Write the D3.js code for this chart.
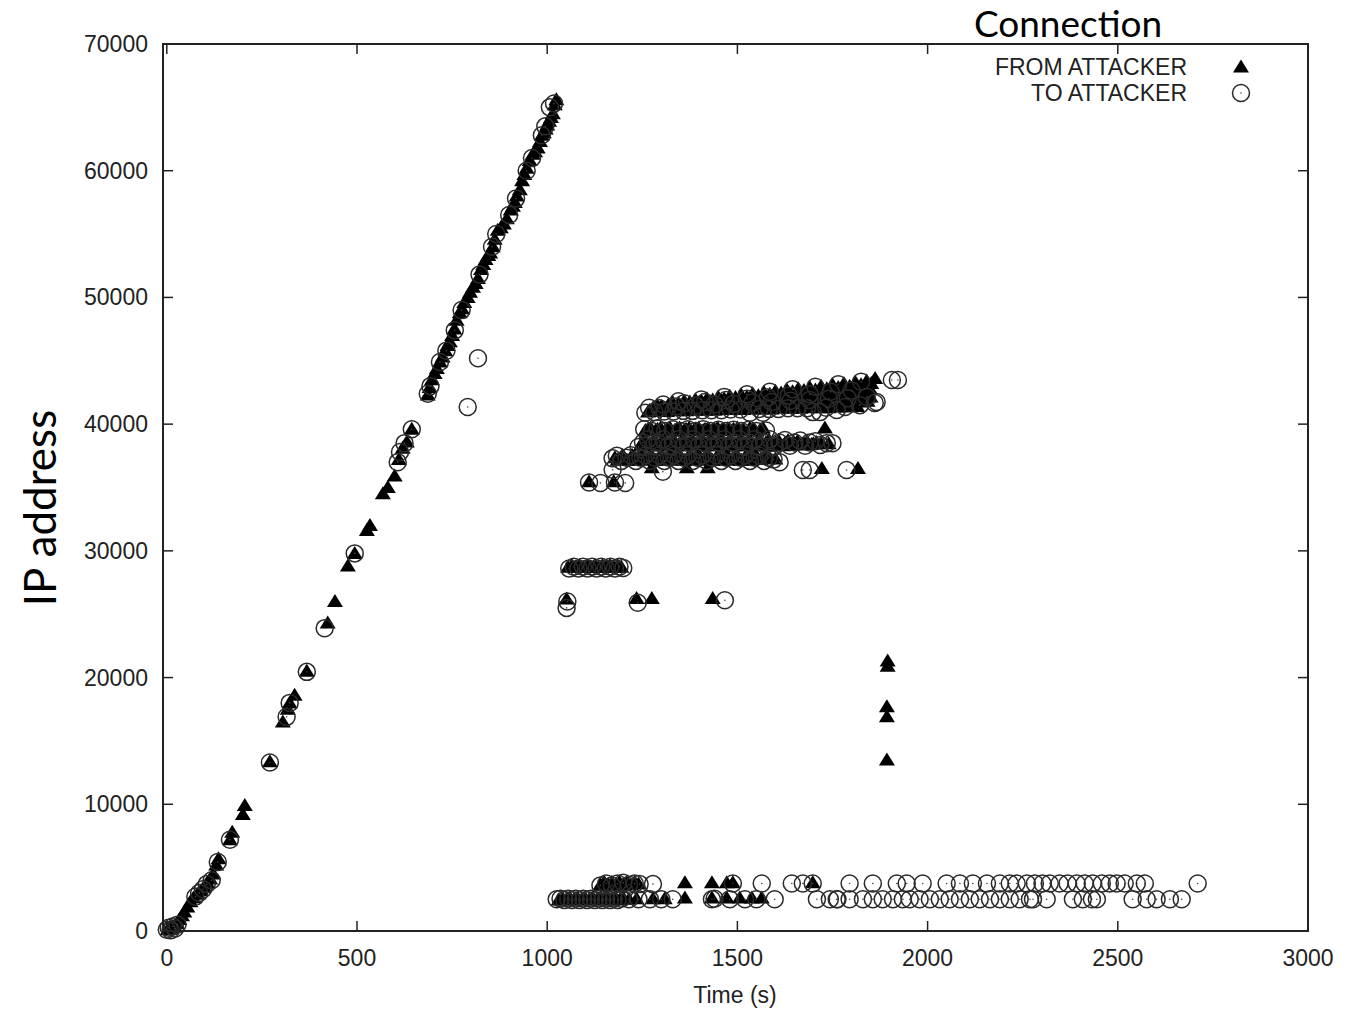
<!DOCTYPE html>
<html lang="en">
<head>
  <meta charset="UTF-8" />
  <title>Connection: IP address over time</title>
  <script src="https://d3js.org/d3.v7.min.js"></script>
  <style>
    body {
      margin: 0;
      background: #fff;
      overflow: hidden;
    }
    .tick-label, .axis-label, .legend-label {
      font-family: "Liberation Sans", Arial, sans-serif;
      fill: #222;
    }
    .big-label {
      font-family: Lato, "Open Sans", sans-serif;
      fill: #000;
    }
  </style>
</head>
<body>
  <script>
    // Axis ticks
    const xTicks = [0, 500, 1000, 1500, 2000, 2500, 3000];
    const yTicks = [0, 10000, 20000, 30000, 40000, 50000, 60000, 70000];

    // FROM ATTACKER (triangles): [time, ip]
    const fromDiagonal = [
      [2,100],[6,200],[10,150],[14,300],[20,400],[26,600],[33,900],[40,1200],[46,1500],[54,1900],
      [62,2300],[70,2600],[80,2900],[90,3200],[98,3500],[106,3800],[114,4100],[122,4500],[130,5200],[136,5700],
      [166,7200],[172,7800],[200,9200],[205,9900],[271,13350],[305,16500],[318,17500],[323,18000],[336,18600],
      [368,20500],[423,24300],[442,26000],[476,28800],[494,29800],[526,31600],[534,32000],[568,34500],
      [581,35000],[599,35900],[610,37200],[620,38100],[631,38600],[644,39600],[686,42300],[691,42900],
      [697,43500],[704,44000],[710,44400],[718,44900],[725,45300],[732,45800],[738,46200],[744,46500],[750,47000],
      [756,47500],[762,48200],[770,48800],[776,49100],[782,49600],[791,50000],[797,50400],[805,50800],[812,51100],
      [818,51500],[826,52200],[832,52600],[838,53000],[845,53300],[850,53500],[857,54000],[862,54600],[870,55300],
      [878,55500],[886,55800],[894,56200],[904,56900],[910,57200],[915,57500],[920,58000],[928,58500],[934,59200],
      [940,59700],[946,60200],[954,60800],[962,61300],[968,61500],[975,61800],[981,62300],[986,62800],[991,63000],
      [996,63300],[1000,63600],[1005,63900],[1010,64200],[1015,64500],[1020,65200],[1024,65600]
    ];
    const fromUpperBands = [
      [1265,40950],[1290,41000],[1315,41000],[1340,41050],[1365,41050],[1390,41100],[1415,41100],[1440,41100],
      [1465,41150],[1490,41150],[1515,41150],[1540,41200],[1565,41200],[1590,41200],[1615,41250],[1640,41250],
      [1665,41250],[1690,41300],[1715,41300],[1740,41300],[1765,41350],[1790,41350],[1815,41400],
      [1270,41100],[1295,41150],[1320,41150],[1345,41200],[1370,41250],[1395,41250],[1420,41300],[1445,41300],
      [1470,41350],[1495,41400],[1520,41400],[1545,41450],[1570,41450],[1595,41500],[1620,41500],[1645,41550],
      [1670,41550],[1695,41600],[1720,41600],[1745,41650],[1770,41650],[1795,41700],[1820,41750],[1842,41800],
      [1278,41250],[1303,41300],[1328,41350],[1353,41350],[1378,41400],[1403,41450],[1428,41500],[1453,41500],
      [1478,41550],[1503,41600],[1528,41650],[1553,41650],[1578,41700],[1603,41750],[1628,41800],[1653,41800],
      [1678,41850],[1703,41900],[1728,41950],[1753,41950],[1778,42000],[1803,42050],[1828,42100],[1850,42150],
      [1300,41400],[1330,41450],[1360,41500],[1390,41550],[1420,41650],[1450,41700],[1480,41700],[1510,41800],
      [1540,41850],[1570,41900],[1600,41950],[1630,42000],[1660,42100],[1690,42150],[1720,42200],[1750,42250],
      [1780,42300],[1810,42400],[1838,42450],
      [1290,41450],[1318,41500],[1346,41550],[1374,41650],[1402,41700],[1430,41750],[1458,41850],[1486,41900],
      [1514,41950],[1542,42050],[1570,42100],[1598,42150],[1626,42250],[1654,42300],[1682,42350],[1710,42450],
      [1738,42500],[1766,42550],[1794,42650],[1822,42700],[1848,42800],
      [1345,41650],[1375,41750],[1405,41850],[1435,41900],[1465,42000],[1495,42100],[1525,42150],[1555,42250],
      [1585,42350],[1615,42450],[1645,42550],[1675,42650],[1705,42700],[1735,42800],[1765,42900],[1795,43000],
      [1825,43100],[1852,43200],
      [1330,41700],[1360,41800],[1390,41900],[1420,42000],[1450,42100],[1480,42200],[1510,42300],[1540,42400],
      [1570,42500],[1600,42600],[1630,42700],[1660,42800],[1690,42900],[1720,43000],[1750,43100],[1780,43200],
      [1810,43300],[1840,43400],[1862,43600],
      [1258,39500],[1272,39700],[1285,39500],[1298,39700],[1310,39500],[1323,39700],[1335,39500],[1348,39700],
      [1360,39500],[1373,39700],[1385,39500],[1398,39700],[1410,39500],[1423,39650],[1435,39500],[1448,39700],
      [1460,39500],[1475,39650],[1488,39500],[1500,39700],[1512,39500],[1533,39700],[1545,39500],[1567,39700],[1730,39700],
      [1265,39600],[1290,39600],[1315,39600],[1340,39600],[1365,39600],[1390,39600],[1415,39600],[1440,39600],
      [1465,39600],[1490,39600],[1515,39600],[1540,39600],[1560,39550]
    ];
    const fromMiddleBands = [
      [1245,38300],[1258,38750],[1270,38300],[1283,38750],[1295,38300],[1308,38750],[1320,38300],[1333,38750],
      [1345,38300],[1358,38750],[1370,38300],[1383,38750],[1395,38300],[1408,38750],[1420,38300],[1433,38750],
      [1445,38300],[1458,38750],[1470,38300],[1483,38750],[1495,38300],[1508,38750],[1520,38300],[1533,38750],
      [1545,38300],[1558,38750],[1570,38300],[1583,38750],[1595,38300],[1608,38700],[1620,38300],[1633,38700],
      [1645,38350],[1658,38650],[1670,38350],[1683,38600],[1695,38400],[1708,38550],[1720,38450],
      [1250,38550],[1275,38550],[1300,38550],[1325,38550],[1350,38550],[1375,38550],[1400,38550],[1425,38550],
      [1450,38550],[1475,38550],[1500,38550],[1525,38550],[1550,38550],[1575,38550],[1600,38550],[1625,38500],
      [1650,38500],[1675,38450],[1700,38450],[1740,38450],
      [1185,37150],[1198,37550],[1210,37150],[1223,37550],[1235,37150],[1248,37550],[1260,37150],[1273,37550],
      [1285,37150],[1298,37550],[1310,37150],[1323,37550],[1335,37150],[1348,37550],[1360,37150],[1373,37550],
      [1385,37150],[1398,37550],[1410,37150],[1423,37550],[1435,37150],[1448,37550],[1460,37150],[1473,37550],
      [1485,37150],[1498,37550],[1510,37150],[1523,37550],[1535,37150],[1548,37550],[1560,37200],[1573,37450],[1585,37300],
      [1178,37350],[1203,37350],[1228,37350],[1253,37350],[1278,37350],[1303,37350],[1328,37350],[1353,37350],
      [1378,37350],[1403,37350],[1428,37350],[1453,37350],[1478,37350],[1503,37350],[1528,37350],[1553,37350],
      [1578,37300],[1600,37250],
      [1275,36550],[1367,36550],[1422,36550],[1722,36500],[1817,36500],
      [1110,35450],[1175,35450],
      [1055,28700],[1065,28850],[1075,28700],[1085,28850],[1095,28700],[1105,28850],[1115,28700],[1125,28850],
      [1135,28700],[1145,28850],[1155,28700],[1165,28850],[1175,28700],[1185,28850],[1195,28700],
      [1051,26200],[1235,26250],[1275,26250],[1435,26250],
      [1895,21300],[1895,20900],[1893,17700],[1893,16900],[1893,13500]
    ];
    const fromLow = [
      [1030,2450],[1040,2600],[1050,2450],[1060,2600],[1070,2450],[1080,2600],[1090,2450],[1100,2600],
      [1110,2450],[1120,2600],[1130,2450],[1140,2600],[1150,2450],[1160,2600],[1170,2450],[1180,2600],
      [1190,2450],[1200,2600],[1215,2500],[1235,2550],[1278,2550],[1309,2550],[1362,2600],
      [1433,2600],[1472,2600],[1506,2600],[1538,2600],[1564,2600],
      [1140,3650],[1150,3850],[1160,3650],[1170,3850],[1180,3650],[1190,3850],[1200,3650],[1210,3850],
      [1220,3650],[1230,3850],[1240,3700],[1362,3800],[1433,3800],[1472,3800],[1488,3800],[1698,3800]
    ];

    // TO ATTACKER (circles): [time, ip]
    const toDiagonal = [
      [0,100],[5,250],[10,50],[16,350],[22,200],[28,500],[75,2700],[85,3000],[95,3300],[105,3700],[118,4000],
      [134,5450],[166,7200],[271,13300],[315,16900],[323,18000],[368,20450],[415,23900],[494,29800],
      [607,37000],[613,37800],[625,38500],[644,39600],[686,42400],[693,43000],[718,44900],[735,45800],
      [757,47400],[775,49000],[791,41350],[818,45200],[822,51800],[855,54000],[866,55000],[900,56500],
      [918,57800],[946,60000],[960,61000],[986,62800],[995,63500],[1007,65000],[1018,65300]
    ];
    const toUpperBands = [
      [1258,40900],[1282,40950],[1308,41000],[1332,41000],[1358,41050],[1382,41050],[1408,41100],[1432,41100],
      [1458,41100],[1482,41150],[1508,41150],[1533,40900],[1558,41200],[1567,40900],[1583,41200],[1608,41200],
      [1633,41250],[1658,41250],[1683,41250],[1698,40950],[1717,40950],[1733,41300],[1761,41120],[1783,41350],
      [1822,41500],[1861,41670],
      [1268,41300],[1295,41250],[1340,41400],[1390,41450],[1440,41550],[1490,41600],[1540,41700],[1590,41750],
      [1640,41850],[1690,41900],[1740,42000],[1790,42050],[1840,42150],[1866,41750],
      [1305,41550],[1360,41650],[1415,41750],[1470,41900],[1525,42000],[1580,42100],[1635,42250],[1690,42350],
      [1745,42550],[1800,42650],
      [1345,41800],[1405,41950],[1465,42150],[1525,42350],[1585,42550],[1645,42750],[1705,42950],[1765,43150],
      [1825,43350],[1906,43480],[1922,43480],
      [1255,39600],[1275,39450],[1290,39650],[1310,39450],[1330,39600],[1350,39450],[1370,39600],[1390,39450],
      [1410,39600],[1430,39450],[1450,39550],[1470,39450],[1490,39550],[1510,39450],[1530,39550],[1550,39450],[1575,39500]
    ];
    const toMiddleBands = [
      [1240,38200],[1252,38550],[1265,38800],[1278,38250],[1290,38550],[1305,38800],[1318,38250],[1330,38550],
      [1345,38800],[1358,38250],[1370,38550],[1385,38800],[1398,38250],[1410,38550],[1425,38800],[1438,38250],
      [1450,38550],[1465,38800],[1478,38250],[1490,38550],[1505,38800],[1518,38250],[1530,38550],[1545,38800],
      [1558,38250],[1570,38550],[1585,38800],[1598,38250],[1610,38550],[1625,38750],[1638,38300],[1650,38550],
      [1665,38700],[1678,38300],[1690,38550],[1705,38650],[1718,38350],[1735,38500],[1750,38500],
      [1172,37300],[1183,37500],[1195,37100],[1208,37350],[1220,37550],[1233,37100],[1245,37350],[1258,37550],
      [1270,37100],[1283,37350],[1295,37550],[1308,37100],[1320,37350],[1333,37550],[1345,37100],[1358,37350],
      [1370,37550],[1383,37100],[1395,37350],[1408,37550],[1420,37100],[1433,37350],[1445,37550],[1458,37100],
      [1470,37350],[1483,37550],[1495,37100],[1508,37350],[1520,37550],[1533,37100],[1545,37350],[1558,37500],
      [1570,37100],[1583,37350],[1595,37200],[1611,37000],
      [1172,36400],[1304,36250],[1672,36380],[1690,36380],[1787,36380],
      [1110,35400],[1140,35350],[1178,35400],[1205,35350],
      [1058,28600],[1070,28750],[1082,28600],[1094,28750],[1106,28600],[1118,28750],[1130,28600],[1142,28750],
      [1154,28600],[1166,28750],[1178,28600],[1190,28750],[1200,28650],
      [1051,25500],[1053,26000],[1238,25900],[1467,26100]
    ];
    const toLow = [
      [1025,2500],[1035,2550],[1045,2450],[1055,2550],[1065,2450],[1075,2550],[1085,2450],[1095,2550],
      [1105,2450],[1115,2550],[1125,2450],[1135,2550],[1145,2450],[1155,2550],[1165,2450],[1175,2550],
      [1185,2450],[1195,2550],[1215,2500],[1240,2500],[1270,2500],[1300,2500],
      [1330,2500],[1433,2500],[1440,2550],[1480,2500],[1520,2500],[1550,2500],[1598,2500],[1709,2500],
      [1743,2500],[1761,2500],[1763,2500],[1795,2500],[1830,2500],[1856,2500],[1882,2500],[1909,2500],
      [1935,2500],[1953,2500],[1979,2500],[2006,2500],[2032,2500],[2058,2500],[2085,2500],[2111,2500],
      [2137,2500],[2164,2500],[2190,2500],[2216,2500],[2242,2500],[2269,2500],[2277,2500],[2313,2500],
      [2382,2500],[2408,2500],[2432,2500],[2445,2500],[2539,2500],[2576,2500],[2602,2500],[2637,2500],[2668,2500],
      [1140,3600],[1155,3750],[1170,3600],[1185,3750],[1200,3800],[1215,3650],[1230,3750],[1243,3700],
      [1278,3700],[1488,3750],
      [1564,3750],[1643,3750],[1672,3750],[1698,3750],[1795,3750],[1856,3750],[1919,3750],[1945,3750],
      [1987,3750],[2050,3750],[2085,3750],[2119,3750],[2156,3750],[2190,3750],[2216,3750],[2234,3750],
      [2261,3750],[2282,3750],[2302,3750],[2321,3750],[2347,3750],[2368,3750],[2392,3750],[2413,3750],
      [2434,3750],[2458,3750],[2479,3750],[2497,3750],[2518,3750],[2550,3750],[2571,3750],[2710,3750]
    ];

    const fromAttacker = fromDiagonal.concat(fromUpperBands, fromMiddleBands, fromLow);
    const toAttacker = toDiagonal.concat(toUpperBands, toMiddleBands, toLow);

    const width = 1350, height = 1009;
    const plot = { left: 163, right: 1308, top: 44, bottom: 931 };

    const svg = d3.select("body").append("svg")
      .attr("width", width)
      .attr("height", height);

    const x = d3.scaleLinear().domain([-10, 3000]).range([plot.left, plot.right]);
    const y = d3.scaleLinear().domain([0, 70000]).range([plot.bottom, plot.top]);

    const tickLen = 10;
    const axisColor = "#222";

    // Ticks (mirrored, pointing inward) and labels
    const g = svg.append("g");
    xTicks.forEach(t => {
      g.append("line").attr("x1", x(t)).attr("x2", x(t))
        .attr("y1", plot.bottom).attr("y2", plot.bottom - tickLen)
        .attr("stroke", axisColor).attr("stroke-width", 1.5);
      g.append("line").attr("x1", x(t)).attr("x2", x(t))
        .attr("y1", plot.top).attr("y2", plot.top + tickLen)
        .attr("stroke", axisColor).attr("stroke-width", 1.5);
      g.append("text").attr("class", "tick-label")
        .attr("x", x(t)).attr("y", 966)
        .attr("text-anchor", "middle")
        .style("font-size", "23px")
        .text(t);
    });
    yTicks.forEach(t => {
      g.append("line").attr("x1", plot.left).attr("x2", plot.left + tickLen)
        .attr("y1", y(t)).attr("y2", y(t))
        .attr("stroke", axisColor).attr("stroke-width", 1.5);
      g.append("line").attr("x1", plot.right).attr("x2", plot.right - tickLen)
        .attr("y1", y(t)).attr("y2", y(t))
        .attr("stroke", axisColor).attr("stroke-width", 1.5);
      g.append("text").attr("class", "tick-label")
        .attr("x", 148).attr("y", y(t) + 8)
        .attr("text-anchor", "end")
        .style("font-size", "23px")
        .text(t);
    });

    // Triangle symbol
    const triPath = "M0,-7.5L8,5.5L-8,5.5Z";

    // FROM ATTACKER first, then TO ATTACKER drawn over it
    svg.append("g").selectAll("path")
      .data(fromAttacker)
      .join("path")
      .attr("d", triPath)
      .attr("transform", d => `translate(${x(d[0])},${y(d[1])})`)
      .attr("fill", "#000");

    const circ = svg.append("g").selectAll("g")
      .data(toAttacker)
      .join("g")
      .attr("transform", d => `translate(${x(d[0])},${y(d[1])})`);
    circ.append("circle")
      .attr("r", 8.5)
      .attr("fill", "none")
      .attr("stroke", "#2a2a2a")
      .attr("stroke-width", 1.5);
    circ.append("circle")
      .attr("r", 0.8)
      .attr("fill", "#444");

    // Plot frame
    svg.append("rect")
      .attr("x", plot.left).attr("y", plot.top)
      .attr("width", plot.right - plot.left).attr("height", plot.bottom - plot.top)
      .attr("fill", "none").attr("stroke", axisColor).attr("stroke-width", 2);

    // Legend
    svg.append("text").attr("class", "legend-label")
      .attr("x", 1187).attr("y", 75).attr("text-anchor", "end")
      .style("font-size", "23px").text("FROM ATTACKER");
    svg.append("text").attr("class", "legend-label")
      .attr("x", 1187).attr("y", 101).attr("text-anchor", "end")
      .style("font-size", "23px").text("TO ATTACKER");
    svg.append("path").attr("d", triPath)
      .attr("transform", "translate(1241,67)").attr("fill", "#000");
    svg.append("circle").attr("cx", 1241).attr("cy", 93).attr("r", 8.5)
      .attr("fill", "none").attr("stroke", "#2a2a2a").attr("stroke-width", 1.5);
    svg.append("circle").attr("cx", 1241).attr("cy", 93).attr("r", 0.8).attr("fill", "#444");

    // Axis labels and title
    svg.append("text").attr("class", "axis-label")
      .attr("x", 735).attr("y", 1003).attr("text-anchor", "middle")
      .style("font-size", "23px").text("Time (s)");

    svg.append("text").attr("class", "big-label")
      .attr("transform", "translate(56,508) rotate(-90)")
      .attr("text-anchor", "middle")
      .style("font-size", "44px").text("IP address");

    svg.append("text").attr("class", "big-label")
      .attr("x", 1068).attr("y", 37).attr("text-anchor", "middle")
      .style("font-size", "37px").text("Connection");
  </script>
</body>
</html>
